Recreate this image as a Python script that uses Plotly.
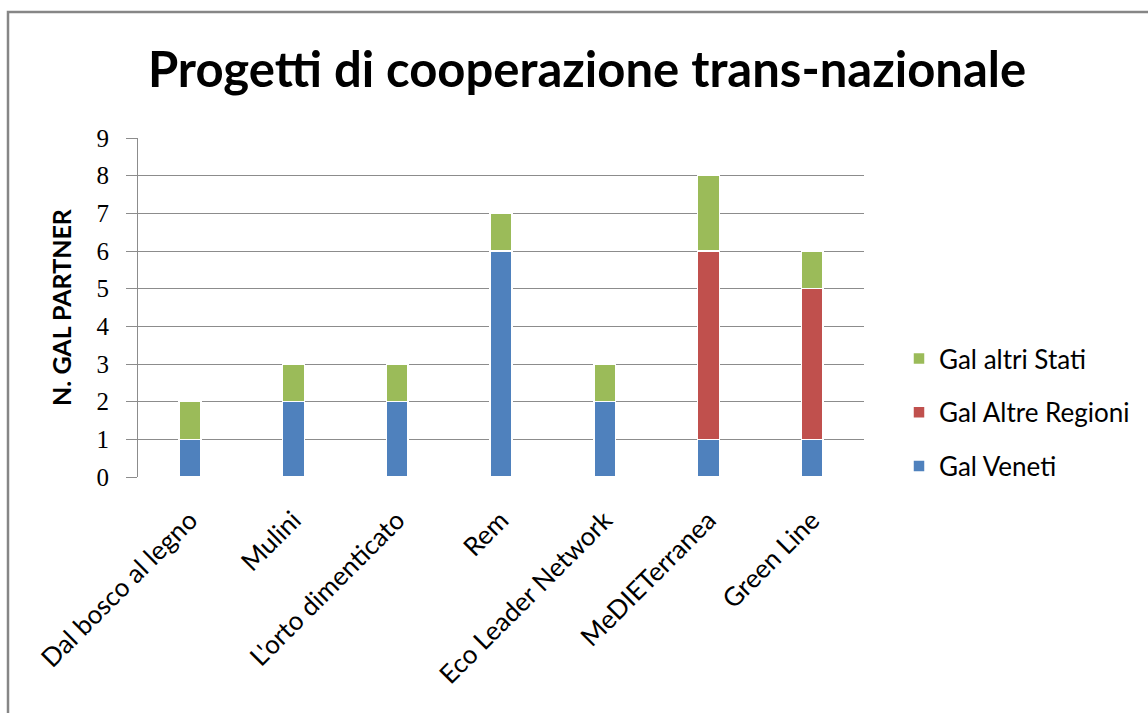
import plotly.graph_objects as go

categories = ["Dal bosco al legno", "Mulini", "L'orto dimenticato", "Rem",
              "Eco Leader Network", "MeDIETerranea", "Green Line"]
gal_veneti = [1, 2, 2, 6, 2, 1, 1]
gal_altre_regioni = [0, 0, 0, 0, 0, 5, 4]
gal_altri_stati = [1, 1, 1, 1, 1, 2, 1]
y_ticks = [0, 1, 2, 3, 4, 5, 6, 7, 8, 9]

series = [
    ("Gal Veneti", gal_veneti, "#4F81BD", 3),
    ("Gal Altre Regioni", gal_altre_regioni, "#C0504D", 2),
    ("Gal altri Stati", gal_altri_stati, "#9BBB59", 1),
]

fig = go.Figure()
for name, vals, col, rank in series:
    fig.add_trace(go.Bar(
        x=categories, y=vals, name=name, legendgroup=name, legendrank=rank,
        marker=dict(color=col, line=dict(color="white", width=1.5)),
        width=0.21,
    ))

W, H = 1148, 713
L, R, T, B = 138, 284, 138, 236
pw, ph = W - L - R, H - T - B

def px_x(x):
    return (x - L) / pw

def px_y(y):
    return (H - B - y) / ph

fig.update_layout(
    width=W, height=H,
    margin=dict(l=L, r=R, t=T, b=B),
    paper_bgcolor="white", plot_bgcolor="white",
    barmode="stack",
    showlegend=True,
    title=dict(text="<b>Progetti di cooperazione trans-nazionale</b>",
               font=dict(family="Lato", size=49, color="black"),
               x=587 / W, xanchor="center", y=1 - 70 / H, yanchor="middle"),
    legend=dict(traceorder="grouped", tracegroupgap=17,
                x=px_x(899), xanchor="left", y=px_y(335), yanchor="top",
                font=dict(family="Lato", size=26, color="black"),
                bgcolor="rgba(0,0,0,0)", itemwidth=30),
    xaxis=dict(tickangle=-45, tickfont=dict(family="Lato", size=26, color="black"),
               showline=False, showgrid=False, ticks="", automargin=False,
               ticklabelstandoff=22),
    yaxis=dict(range=[0, 9], tickvals=y_ticks,
               tickfont=dict(family="Liberation Serif", size=25, color="black"),
               showgrid=True, gridcolor="#8c8c8c", gridwidth=1,
               showline=True, linecolor="#8c8c8c", linewidth=1,
               ticks="outside", ticklen=11, tickcolor="#8c8c8c",
               ticklabelstandoff=12,
               zeroline=False, automargin=False,
               title=dict(text="<b>N. GAL PARTNER</b>",
                          font=dict(family="Lato", size=25, color="black"),
                          standoff=17)),
    shapes=[dict(type="rect", xref="paper", yref="paper",
                 x0=px_x(8), x1=px_x(1160), y0=px_y(12), y1=px_y(730),
                 line=dict(color="#868686", width=2.5), layer="below")],
)

fig.write_html("out.html", config={"displayModeBar": False},
               post_script="document.body.style.margin='0';")
